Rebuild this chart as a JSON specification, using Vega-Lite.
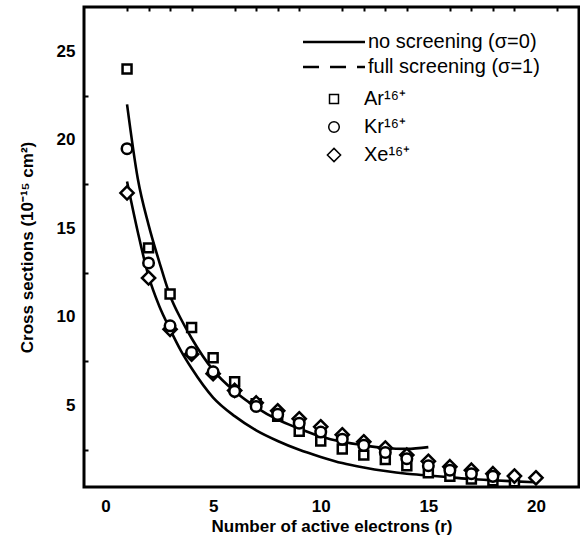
{
  "$schema": "https://vega.github.io/schema/vega-lite/v6.json",
  "width": 495,
  "height": 480,
  "autosize": {"type": "none"},
  "padding": {"left": 84, "top": 7, "right": 1, "bottom": 59},
  "background": "white",
  "config": {
    "view": {"stroke": "black", "strokeWidth": 3},
    "font": "Liberation Sans",
    "axis": {
      "domain": false,
      "ticks": false,
      "tickSize": 0,
      "grid": true,
      "gridColor": "black",
      "gridOpacity": 1,
      "gridWidth": 2.5,
      "gridDash": [8, 2000],
      "labelColor": "black",
      "labelFont": "Liberation Sans",
      "labelFontSize": 17,
      "labelFontWeight": "bold",
      "labelFlush": false,
      "labelOverlap": false,
      "titleColor": "black",
      "titleFont": "Liberation Sans",
      "titleFontSize": 17,
      "titleFontWeight": "bold"
    },
    "legend": {
      "labelFont": "Liberation Sans",
      "labelFontSize": 20,
      "labelColor": "black",
      "labelLimit": 400,
      "padding": 0
    }
  },
  "datasets": {
    "curves": [
      {"r": 1, "sigma": 22.0, "model": "no screening (σ=0)"},
      {"r": 1.5, "sigma": 17.8, "model": "no screening (σ=0)"},
      {"r": 2, "sigma": 15.2, "model": "no screening (σ=0)"},
      {"r": 2.5, "sigma": 13.1, "model": "no screening (σ=0)"},
      {"r": 3, "sigma": 11.2, "model": "no screening (σ=0)"},
      {"r": 3.5, "sigma": 9.9, "model": "no screening (σ=0)"},
      {"r": 4, "sigma": 8.8, "model": "no screening (σ=0)"},
      {"r": 5, "sigma": 7.0, "model": "no screening (σ=0)"},
      {"r": 6, "sigma": 5.8, "model": "no screening (σ=0)"},
      {"r": 7, "sigma": 4.9, "model": "no screening (σ=0)"},
      {"r": 8, "sigma": 4.2, "model": "no screening (σ=0)"},
      {"r": 9, "sigma": 3.7, "model": "no screening (σ=0)"},
      {"r": 10, "sigma": 3.25, "model": "no screening (σ=0)"},
      {"r": 11, "sigma": 2.95, "model": "no screening (σ=0)"},
      {"r": 12, "sigma": 2.75, "model": "no screening (σ=0)"},
      {"r": 13, "sigma": 2.6, "model": "no screening (σ=0)"},
      {"r": 14, "sigma": 2.55, "model": "no screening (σ=0)"},
      {"r": 15, "sigma": 2.65, "model": "no screening (σ=0)"},
      {"r": 1, "sigma": 17.65, "model": "full screening (σ=1)"},
      {"r": 1.5, "sigma": 14.8, "model": "full screening (σ=1)"},
      {"r": 2, "sigma": 12.3, "model": "full screening (σ=1)"},
      {"r": 2.5, "sigma": 10.6, "model": "full screening (σ=1)"},
      {"r": 3, "sigma": 9.3, "model": "full screening (σ=1)"},
      {"r": 3.5, "sigma": 8.1, "model": "full screening (σ=1)"},
      {"r": 4, "sigma": 7.1, "model": "full screening (σ=1)"},
      {"r": 5, "sigma": 5.45, "model": "full screening (σ=1)"},
      {"r": 6, "sigma": 4.4, "model": "full screening (σ=1)"},
      {"r": 7, "sigma": 3.6, "model": "full screening (σ=1)"},
      {"r": 8, "sigma": 3.0, "model": "full screening (σ=1)"},
      {"r": 9, "sigma": 2.5, "model": "full screening (σ=1)"},
      {"r": 10, "sigma": 2.1, "model": "full screening (σ=1)"},
      {"r": 11, "sigma": 1.75, "model": "full screening (σ=1)"},
      {"r": 12, "sigma": 1.5, "model": "full screening (σ=1)"},
      {"r": 13, "sigma": 1.3, "model": "full screening (σ=1)"},
      {"r": 14, "sigma": 1.15, "model": "full screening (σ=1)"},
      {"r": 15, "sigma": 1.05, "model": "full screening (σ=1)"},
      {"r": 16, "sigma": 0.95, "model": "full screening (σ=1)"},
      {"r": 17, "sigma": 0.85, "model": "full screening (σ=1)"},
      {"r": 18, "sigma": 0.78, "model": "full screening (σ=1)"},
      {"r": 19, "sigma": 0.72, "model": "full screening (σ=1)"},
      {"r": 20, "sigma": 0.67, "model": "full screening (σ=1)"}
    ],
    "points": [
      {"r": 1, "sigma": 24.0, "ion": "Ar¹⁶⁺"},
      {"r": 2, "sigma": 13.9, "ion": "Ar¹⁶⁺"},
      {"r": 3, "sigma": 11.3, "ion": "Ar¹⁶⁺"},
      {"r": 4, "sigma": 9.4, "ion": "Ar¹⁶⁺"},
      {"r": 5, "sigma": 7.7, "ion": "Ar¹⁶⁺"},
      {"r": 6, "sigma": 6.35, "ion": "Ar¹⁶⁺"},
      {"r": 7, "sigma": 5.1, "ion": "Ar¹⁶⁺"},
      {"r": 8, "sigma": 4.4, "ion": "Ar¹⁶⁺"},
      {"r": 9, "sigma": 3.55, "ion": "Ar¹⁶⁺"},
      {"r": 10, "sigma": 3.0, "ion": "Ar¹⁶⁺"},
      {"r": 11, "sigma": 2.55, "ion": "Ar¹⁶⁺"},
      {"r": 12, "sigma": 2.2, "ion": "Ar¹⁶⁺"},
      {"r": 13, "sigma": 1.95, "ion": "Ar¹⁶⁺"},
      {"r": 14, "sigma": 1.6, "ion": "Ar¹⁶⁺"},
      {"r": 15, "sigma": 1.2, "ion": "Ar¹⁶⁺"},
      {"r": 16, "sigma": 1.0, "ion": "Ar¹⁶⁺"},
      {"r": 17, "sigma": 0.85, "ion": "Ar¹⁶⁺"},
      {"r": 18, "sigma": 0.75, "ion": "Ar¹⁶⁺"},
      {"r": 19, "sigma": 0.7, "ion": "Ar¹⁶⁺"},
      {"r": 1, "sigma": 17.0, "ion": "Xe¹⁶⁺"},
      {"r": 2, "sigma": 12.2, "ion": "Xe¹⁶⁺"},
      {"r": 3, "sigma": 9.3, "ion": "Xe¹⁶⁺"},
      {"r": 4, "sigma": 7.9, "ion": "Xe¹⁶⁺"},
      {"r": 5, "sigma": 6.8, "ion": "Xe¹⁶⁺"},
      {"r": 6, "sigma": 5.85, "ion": "Xe¹⁶⁺"},
      {"r": 7, "sigma": 5.15, "ion": "Xe¹⁶⁺"},
      {"r": 8, "sigma": 4.7, "ion": "Xe¹⁶⁺"},
      {"r": 9, "sigma": 4.25, "ion": "Xe¹⁶⁺"},
      {"r": 10, "sigma": 3.8, "ion": "Xe¹⁶⁺"},
      {"r": 11, "sigma": 3.35, "ion": "Xe¹⁶⁺"},
      {"r": 12, "sigma": 2.95, "ion": "Xe¹⁶⁺"},
      {"r": 13, "sigma": 2.6, "ion": "Xe¹⁶⁺"},
      {"r": 14, "sigma": 2.2, "ion": "Xe¹⁶⁺"},
      {"r": 15, "sigma": 1.85, "ion": "Xe¹⁶⁺"},
      {"r": 16, "sigma": 1.55, "ion": "Xe¹⁶⁺"},
      {"r": 17, "sigma": 1.35, "ion": "Xe¹⁶⁺"},
      {"r": 18, "sigma": 1.15, "ion": "Xe¹⁶⁺"},
      {"r": 19, "sigma": 1.02, "ion": "Xe¹⁶⁺"},
      {"r": 20, "sigma": 0.92, "ion": "Xe¹⁶⁺"},
      {"r": 1, "sigma": 19.5, "ion": "Kr¹⁶⁺"},
      {"r": 2, "sigma": 13.05, "ion": "Kr¹⁶⁺"},
      {"r": 3, "sigma": 9.5, "ion": "Kr¹⁶⁺"},
      {"r": 4, "sigma": 8.0, "ion": "Kr¹⁶⁺"},
      {"r": 5, "sigma": 6.9, "ion": "Kr¹⁶⁺"},
      {"r": 6, "sigma": 5.8, "ion": "Kr¹⁶⁺"},
      {"r": 7, "sigma": 4.95, "ion": "Kr¹⁶⁺"},
      {"r": 8, "sigma": 4.5, "ion": "Kr¹⁶⁺"},
      {"r": 9, "sigma": 4.0, "ion": "Kr¹⁶⁺"},
      {"r": 10, "sigma": 3.5, "ion": "Kr¹⁶⁺"},
      {"r": 11, "sigma": 3.1, "ion": "Kr¹⁶⁺"},
      {"r": 12, "sigma": 2.75, "ion": "Kr¹⁶⁺"},
      {"r": 13, "sigma": 2.35, "ion": "Kr¹⁶⁺"},
      {"r": 14, "sigma": 2.0, "ion": "Kr¹⁶⁺"},
      {"r": 15, "sigma": 1.6, "ion": "Kr¹⁶⁺"},
      {"r": 16, "sigma": 1.35, "ion": "Kr¹⁶⁺"},
      {"r": 17, "sigma": 1.15, "ion": "Kr¹⁶⁺"},
      {"r": 18, "sigma": 1.0, "ion": "Kr¹⁶⁺"}
    ]
  },
  "layer": [
    {
      "data": {"name": "curves"},
      "mark": {"type": "point", "opacity": 0},
      "encoding": {
        "x": {
          "field": "r", "type": "quantitative",
          "scale": {"domain": [-1, 22], "nice": false, "zero": false},
          "axis": {
            "orient": "bottom",
            "values": [1,2,3,4,6,7,8,9,11,12,13,14,16,17,18,19,21],
            "labels": false, "title": null,
            "gridDash": [4, 2000], "gridWidth": 2
          }
        },
        "y": {
          "field": "sigma", "type": "quantitative",
          "scale": {"domain": [0.4, 27.5], "nice": false, "zero": false},
          "axis": {
            "orient": "left",
            "values": [2.5,7.5,12.5,17.5,22.5],
            "labels": false, "title": null,
            "gridDash": [4, 2000], "gridWidth": 2
          }
        }
      }
    },
    {
      "data": {"name": "curves"},
      "mark": {"type": "point", "opacity": 0},
      "encoding": {
        "x": {
          "field": "r", "type": "quantitative",
          "scale": {"domain": [-1, 22], "nice": false, "zero": false},
          "axis": {
            "orient": "top",
            "values": [1,2,3,4,6,7,8,9,11,12,13,14,16,17,18,19,21],
            "labels": false, "title": null,
            "gridDash": [4, 2000], "gridWidth": 2
          }
        },
        "y": {
          "field": "sigma", "type": "quantitative",
          "scale": {"domain": [0.4, 27.5], "nice": false, "zero": false},
          "axis": {
            "orient": "right",
            "values": [2.5,7.5,12.5,17.5,22.5],
            "labels": false, "title": null,
            "gridDash": [4, 2000], "gridWidth": 2
          }
        }
      }
    },
    {
      "data": {"name": "curves"},
      "mark": {"type": "line", "strokeWidth": 2.6, "interpolate": "monotone"},
      "encoding": {
        "x": {
          "field": "r", "type": "quantitative",
          "scale": {"domain": [-1, 22], "nice": false, "zero": false},
          "axis": {
            "orient": "bottom",
            "values": [0, 5, 10, 15, 20],
            "labelPadding": 11,
            "title": "Number of active electrons (r)",
            "titlePadding": 4
          }
        },
        "y": {
          "field": "sigma", "type": "quantitative",
          "scale": {"domain": [0.4, 27.5], "nice": false, "zero": false},
          "axis": {
            "orient": "left",
            "values": [5, 10, 15, 20, 25],
            "labelPadding": 9,
            "title": "Cross sections (10⁻¹⁵ cm²)",
            "titlePadding": 20
          }
        },
        "color": {
          "field": "model", "type": "nominal",
          "scale": {"domain": ["no screening (σ=0)", "full screening (σ=1)"], "range": ["black", "black"]},
          "legend": {
            "orient": "none",
            "legendX": 240,
            "legendY": 25,
            "title": null,
            "symbolType": "M-4,0H4",
            "symbolSize": 240,
            "symbolStrokeWidth": 2.6,
            "labelOffset": 24,
            "rowPadding": 5,
            "encode": {
              "symbols": {
                "update": {
                  "strokeDash": {"signal": "datum.value === 'full screening (σ=1)' ? [16, 11] : [1, 0]"}
                }
              }
            }
          }
        }
      }
    },
    {
      "data": {"name": "points"},
      "mark": {"type": "point", "filled": true, "fill": "white", "stroke": "black", "strokeWidth": 2.5, "opacity": 1, "size": 174},
      "encoding": {
        "x": {
          "field": "r", "type": "quantitative",
          "scale": {"domain": [-1, 22], "nice": false, "zero": false},
          "axis": {
            "orient": "top",
            "values": [0, 5, 10, 15, 20],
            "labels": false,
            "title": null
          }
        },
        "y": {
          "field": "sigma", "type": "quantitative",
          "scale": {"domain": [0.4, 27.5], "nice": false, "zero": false},
          "axis": {
            "orient": "right",
            "values": [5, 10, 15, 20, 25],
            "labels": false,
            "title": null
          }
        },
        "shape": {
          "field": "ion", "type": "nominal",
          "scale": {
            "domain": ["Ar¹⁶⁺", "Kr¹⁶⁺", "Xe¹⁶⁺"],
            "range": [
              "M-0.68,-0.68H0.68V0.68H-0.68Z",
              "M0.8,0A0.8,0.8,0,1,1,-0.8,0A0.8,0.8,0,1,1,0.8,0Z",
              "M0,-1L1,0L0,1L-1,0Z"
            ]
          },
          "legend": {
            "orient": "none",
            "legendX": 240,
            "legendY": 82,
            "title": null,
            "symbolSize": 174,
            "labelOffset": 20,
            "rowPadding": 8,
            "encode": {
              "symbols": {
                "update": {
                  "fill": {"value": "white"},
                  "stroke": {"value": "black"},
                  "strokeWidth": {"value": 2.5},
                  "opacity": {"value": 1}
                }
              }
            }
          }
        }
      }
    }
  ],
  "resolve": {"axis": {"x": "independent", "y": "independent"}}
}
